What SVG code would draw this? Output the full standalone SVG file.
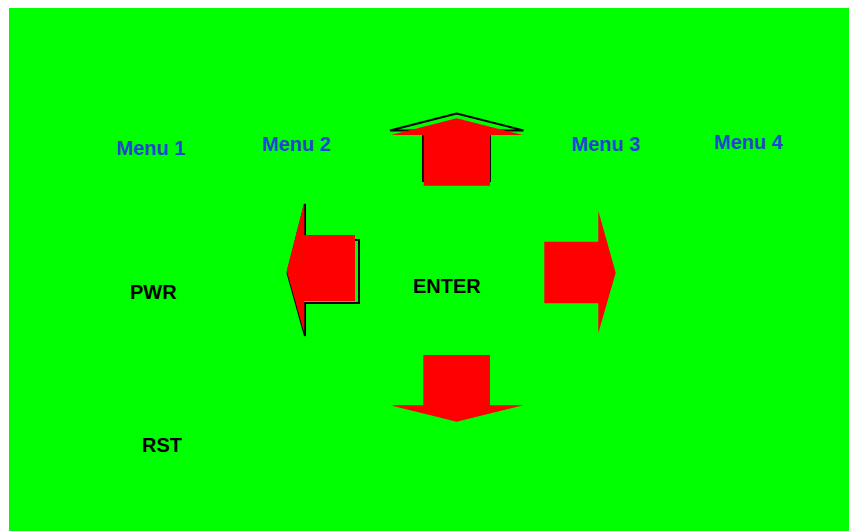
<svg xmlns="http://www.w3.org/2000/svg" width="849" height="531" viewBox="0 0 849 531">
<style>
.lbl{font-family:"Liberation Sans",Arial,sans-serif;font-weight:bold;font-size:20px}
.menu{fill:#1f45d2}
.btn{fill:#000}
.arrow{fill:#ff0000}
.outline{fill:none;stroke:#000;stroke-width:2}
</style>
<rect x="0" y="0" width="849" height="531" fill="#ffffff"/>
<rect x="9" y="8" width="840" height="523" fill="#00ff00"/>
<g id="menu1"><text class="lbl menu" x="116.5" y="155">Menu 1</text></g>
<g id="menu2"><text class="lbl menu" x="262" y="151">Menu 2</text></g>
<g id="menu3"><text class="lbl menu" x="571.5" y="151">Menu 3</text></g>
<g id="menu4"><text class="lbl menu" x="714" y="148.5">Menu 4</text></g>
<g id="pwr"><text class="lbl btn" x="130" y="299">PWR</text></g>
<g id="enter"><text class="lbl btn" x="413" y="293">ENTER</text></g>
<g id="rst"><text class="lbl btn" x="142" y="451.5">RST</text></g>
<g id="up">
<polygon class="outline" points="456.7,113.5 390,130.5 423,130.5 423,181 490,181 490,130.5 523.5,130.5"/>
<polygon class="arrow" points="456.7,118.3 391,135 423.7,135 423.7,185.7 490,185.7 490,135 522.7,135"/>
</g>
<g id="left">
<polygon class="outline" points="287.5,273 305,204 305,240 359,240 359,303 305,303 305,336"/>
<polygon class="arrow" points="286.7,271 304.3,202.3 304.3,235 355,235 355,301 304.3,301 304.3,333.3"/>
</g>
<g id="right">
<polygon class="arrow" points="544.3,241.7 598.3,241.7 598.3,210.7 615.7,272.7 598.3,333.3 598.3,303.3 544.3,303.3"/>
</g>
<g id="down">
<polygon class="arrow" points="423.3,355 490,355 490,405.3 523.3,405.3 456.7,421.7 390,405.3 423.3,405.3"/>
</g>
<g id="connectors"></g>
</svg>
